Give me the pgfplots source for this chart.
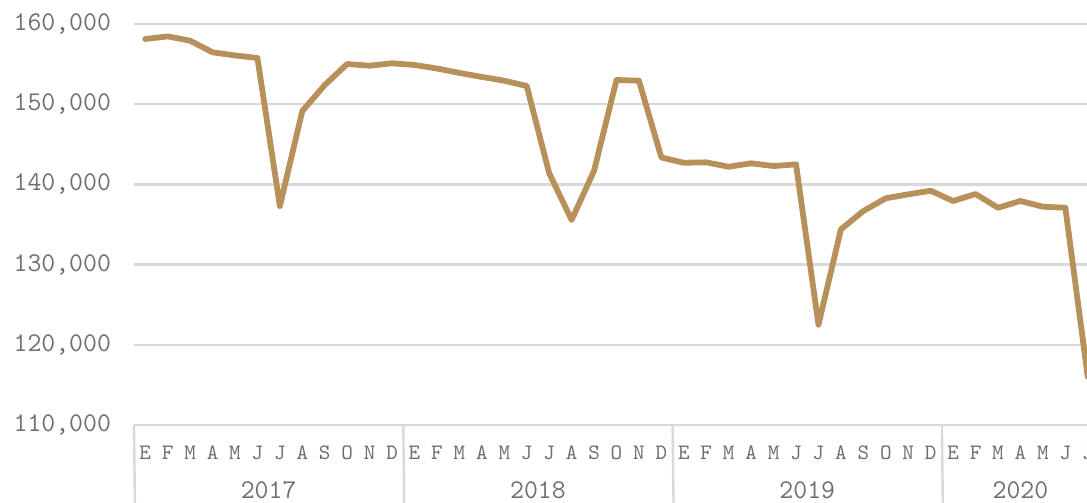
\documentclass[border=0pt]{standalone}
\usepackage{fontspec}
\setmainfont{Latin Modern Mono}
\usepackage{pgfplots}
\usepackage{pgfplotstable}
\pgfplotsset{compat=1.18}
\definecolor{linec}{HTML}{B8905A}
\definecolor{gridc}{HTML}{D9D9D9}
\definecolor{txt}{HTML}{6E6E6E}

\pgfplotstableread{
x y
0 158130
1 158450
2 157920
3 156470
4 156080
5 155760
6 137300
7 149150
8 152390
9 155010
10 154800
11 155100
12 154890
13 154450
14 153900
15 153400
16 152930
17 152270
18 141400
19 135560
20 141700
21 153020
22 152930
23 143350
24 142700
25 142750
26 142200
27 142630
28 142290
29 142500
30 122500
31 134400
32 136680
33 138270
34 138760
35 139210
36 137930
37 138800
38 137090
39 137930
40 137220
41 137090
42 116000
}\datatable

\newcommand{\bigf}{\fontsize{13.5}{15}\selectfont}
\newcommand{\smallf}{\fontsize{11}{13}\selectfont}

\begin{document}
\begin{tikzpicture}
\begin{axis}[name=ax, scale only axis, width=482.5pt, height=200.5pt,
  xmin=-0.5, xmax=42.5, ymin=110000, ymax=160000,
  axis line style={draw=none},
  scaled y ticks=false,
  ytick={110000,120000,130000,140000,150000,160000},
  yticklabels={110{,}000,120{,}000,130{,}000,140{,}000,150{,}000,160{,}000},
  yticklabel style={font=\bigf, text=txt, xshift=-8pt},
  xtick={0,...,42},
  xticklabels={E,F,M,A,M,J,J,A,S,O,N,D,E,F,M,A,M,J,J,A,S,O,N,D,E,F,M,A,M,J,J,A,S,O,N,D,E,F,M,A,M,J,J},
  xticklabel style={font=\smallf, text=txt, anchor=center, yshift=-14pt},
  major tick length=0pt,
  ymajorgrids, grid style={gridc, line width=1.2pt},
  clip=false,
]
\addplot[linec, line width=2.9pt, line join=round, line cap=round] table[x=x,y=y] {\datatable};
\draw[gridc, line width=1.2pt] (axis cs:-0.5,110000) -- ++(0,-39pt);
\draw[gridc, line width=1.2pt] (axis cs:11.5,110000) -- ++(0,-39pt);
\draw[gridc, line width=1.2pt] (axis cs:23.5,110000) -- ++(0,-39pt);
\draw[gridc, line width=1.2pt] (axis cs:35.5,110000) -- ++(0,-39pt);
\draw[gridc, line width=1.2pt] (axis cs:42.5,110000) -- ++(0,-39pt);
\node[text=txt, font=\bigf, anchor=center] at (axis cs:5.5,110000) [yshift=-32.5pt] {2017};
\node[text=txt, font=\bigf, anchor=center] at (axis cs:17.5,110000) [yshift=-32.5pt] {2018};
\node[text=txt, font=\bigf, anchor=center] at (axis cs:29.5,110000) [yshift=-32.5pt] {2019};
\node[text=txt, font=\bigf, anchor=center] at (axis cs:39,110000) [yshift=-32.5pt] {2020};
\end{axis}
\pgfresetboundingbox
\useasboundingbox ([xshift=-67pt, yshift=-39pt]ax.south west) rectangle ([xshift=-6pt, yshift=12pt]ax.north east);
\end{tikzpicture}
\end{document}
